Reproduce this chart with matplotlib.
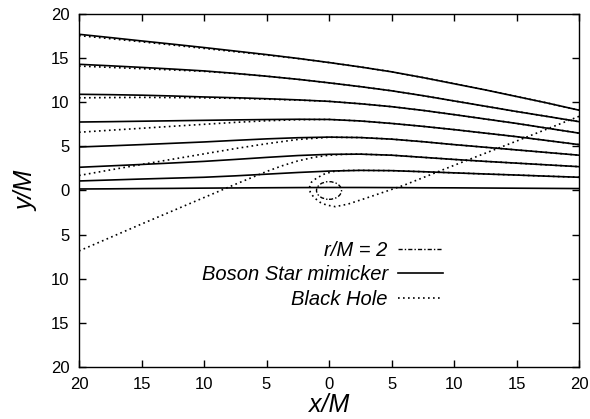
import matplotlib
matplotlib.use('Agg')
import matplotlib.pyplot as plt
from matplotlib.patches import Circle
from matplotlib.lines import Line2D

plt.rcParams['font.family'] = ['Liberation Sans', 'DejaVu Sans']

bs_x = [-20, -17.5, -15, -12.5, -10, -7.5, -5, -2.5, 0, 2.5, 5, 7.5, 10, 12.5, 15, 17.5, 20]
bs_y1 = [17.7, 17.33, 16.95, 16.58, 16.2, 15.8, 15.4, 14.97, 14.5, 14.0, 13.45, 12.8, 12.1, 11.4, 10.65, 9.9, 9.1]
bs_y2 = [14.3, 14.13, 13.95, 13.76, 13.55, 13.27, 12.95, 12.6, 12.2, 11.77, 11.3, 10.75, 10.15, 9.55, 8.95, 8.38, 7.8]
bs_y3 = [10.9, 10.86, 10.8, 10.71, 10.6, 10.51, 10.4, 10.27, 10.1, 9.83, 9.5, 9.08, 8.6, 8.1, 7.6, 7.05, 6.5]
bs_y4 = [7.76, 7.8, 7.85, 7.9, 7.95, 8.0, 8.04, 8.07, 8.05, 7.88, 7.6, 7.27, 6.9, 6.5, 6.1, 5.65, 5.2]
bs_y5 = [4.93, 5.06, 5.2, 5.35, 5.5, 5.68, 5.85, 5.98, 6.05, 6.0, 5.82, 5.53, 5.2, 4.9, 4.6, 4.3, 4.0]
bs_y6 = [2.63, 2.79, 2.95, 3.12, 3.3, 3.52, 3.75, 3.96, 4.1, 4.12, 4.0, 3.76, 3.52, 3.3, 3.1, 2.9, 2.7]
bs_y7 = [1.08, 1.19, 1.3, 1.4, 1.5, 1.66, 1.85, 2.04, 2.2, 2.28, 2.25, 2.13, 2.0, 1.87, 1.75, 1.62, 1.5]
bs_y8 = [0.17, 0.19, 0.22, 0.24, 0.27, 0.29, 0.31, 0.33, 0.34, 0.34, 0.33, 0.31, 0.3, 0.28, 0.26, 0.24, 0.22]

# black hole rays (dotted); they follow the solid rays on the right side
bh_x1 = bs_x
bh_y1 = [17.55, 17.2, 16.85, 16.48, 16.1, 15.73, 15.35, 14.95, 14.5, 14.0, 13.45, 12.8, 12.1, 11.4, 10.65, 9.9, 9.1]
bh_x2 = bs_x
bh_y2 = [14.1, 13.95, 13.8, 13.66, 13.5, 13.25, 12.95, 12.6, 12.2, 11.77, 11.3, 10.75, 10.15, 9.55, 8.95, 8.38, 7.8]
bh_x3 = bs_x
bh_y3 = [10.5, 10.53, 10.55, 10.53, 10.5, 10.44, 10.35, 10.24, 10.1, 9.83, 9.5, 9.08, 8.6, 8.1, 7.6, 7.05, 6.5]
bh_x4 = bs_x
bh_y4 = [6.6, 6.83, 7.05, 7.28, 7.5, 7.72, 7.9, 8.02, 8.05, 7.88, 7.6, 7.27, 6.9, 6.5, 6.1, 5.65, 5.2]
bh_x5 = bs_x
bh_y5 = [1.7, 2.33, 2.95, 3.55, 4.15, 4.75, 5.3, 5.78, 6.03, 6.0, 5.82, 5.53, 5.2, 4.9, 4.6, 4.3, 4.0]
bh_x6 = [-20, -15, -10, -7.5, -5, -3.75, -2.5, -1.25, 0, 1.25, 2.5, 5, 7.5, 10, 12.5, 15, 17.5, 20]
bh_y6 = [-6.85, -3.8, -0.8, 0.7, 2.15, 2.8, 3.35, 3.75, 4.0, 4.1, 4.12, 4.0, 3.76, 3.52, 3.3, 3.1, 2.9, 2.7]
bh_x7 = [20, 15, 10, 6, 3, 1.5, 0.5, -0.2, -0.7, -1.2, -1.5, -1.55, -1.4, -1.0, -0.4, 0.3, 1.2, 2.5, 5, 7.5, 10, 12.5, 15, 17.5, 20]
bh_y7 = [8.4, 5.6, 2.85, 0.6, -0.85, -1.55, -1.83, -1.65, -1.35, -0.8, -0.2, 0.4, 0.95, 1.4, 1.85, 2.15, 2.27, 2.28, 2.25, 2.13, 2.0, 1.87, 1.75, 1.62, 1.5]

circle_r = 1.0
ticks = [-20, -15, -10, -5, 0, 5, 10, 15, 20]
tick_labels = ['20', '15', '10', '5', '0', '5', '10', '15', '20']

dotted = (0, (1, 2))
dashdot = (0, (3, 1.5, 1, 1.5))

fig = plt.figure(figsize=(5.9, 4.19), dpi=100)
ax = fig.add_axes([0.1339, 0.1241, 0.8475, 0.8425])

for y in [bs_y1, bs_y2, bs_y3, bs_y4, bs_y5, bs_y6, bs_y7, bs_y8]:
    ax.plot(bs_x, y, color='black', lw=1.2)

for x, y in [(bh_x1, bh_y1), (bh_x2, bh_y2), (bh_x3, bh_y3), (bh_x4, bh_y4),
             (bh_x5, bh_y5), (bh_x6, bh_y6), (bh_x7, bh_y7)]:
    ax.plot(x, y, color='black', lw=1.2, linestyle=dotted)

ax.add_patch(Circle((0, 0), circle_r, fill=False, edgecolor='black', lw=1.0, linestyle=dashdot))

ax.set_xlim(-20, 20)
ax.set_ylim(-20, 20)
ax.set_xticks(ticks)
ax.set_xticklabels(tick_labels)
ax.set_yticks(ticks)
ax.set_yticklabels(tick_labels)
ax.tick_params(direction='in', length=5, width=1, top=True, right=True, labelsize=12, pad=7)
for s in ax.spines.values():
    s.set_linewidth(1.0)

ax.set_xlabel('x/M', fontsize=18, style='italic', labelpad=1)
ax.set_ylabel('y/M', fontsize=18, style='italic', labelpad=9)

handles = [Line2D([], [], color='black', lw=1.0, linestyle=dashdot),
           Line2D([], [], color='black', lw=1.2),
           Line2D([], [], color='black', lw=1.2, linestyle=dotted)]
labels = ['r/M = 2', 'Boson Star mimicker', 'Black Hole']
leg = ax.legend(handles, labels, loc='upper right', bbox_to_anchor=(0.728, 0.358),
                frameon=False, markerfirst=False, handlelength=2.24, handletextpad=0.5,
                labelspacing=0.28, borderpad=0, borderaxespad=0,
                prop={'size': 14.5, 'style': 'italic'})

fig.savefig('out.png', dpi=100)
